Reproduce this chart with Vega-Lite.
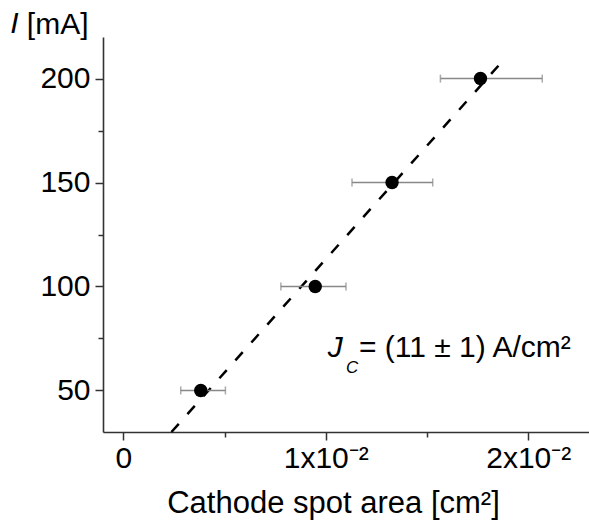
{
  "$schema": "https://vega.github.io/schema/vega-lite/v6.json",
  "width": 486,
  "height": 395,
  "autosize": {"type": "none"},
  "padding": {"left": 103, "top": 37, "right": 0, "bottom": 88},
  "background": "white",
  "config": {
    "view": {"stroke": null},
    "font": "Liberation Sans",
    "axis": {"grid": false, "domainColor": "#333", "domainWidth": 1.6, "tickColor": "#333", "tickWidth": 1.5, "labelColor": "#000", "titleColor": "#000", "labelFont": "Liberation Sans", "titleFont": "Liberation Sans", "labelFontSize": 30, "titleFontSize": 30, "titleFontWeight": "normal"}
  },
  "data": {
    "values": [
      {"area": 0.003828, "areaMin": 0.002839, "areaMax": 0.005045, "current": 50},
      {"area": 0.009481, "areaMin": 0.007784, "areaMax": 0.010999, "current": 100},
      {"area": 0.013274, "areaMin": 0.011296, "areaMax": 0.015282, "current": 150},
      {"area": 0.017641, "areaMin": 0.015663, "areaMax": 0.020692, "current": 200}
    ]
  },
  "layer": [
    {
      "data": {"values": [{"area": 0.00238, "current": 30}, {"area": 0.01884, "current": 209.6}]},
      "mark": {"type": "line", "strokeDash": [11, 13], "strokeWidth": 2.5, "color": "#000"},
      "encoding": {
        "x": {
          "field": "area", "type": "quantitative", "title": "Cathode spot area [cm²]",
          "scale": {"domain": [-0.001, 0.023], "nice": false, "zero": false},
          "axis": {
            "values": [0, 0.005, 0.01, 0.015, 0.02],
            "labelExpr": "datum.value == 0 ? '0' : abs(datum.value - 0.01) < 1e-9 ? '1x10⁻²' : abs(datum.value - 0.02) < 1e-9 ? '2x10⁻²' : ''",
            "tickSize": {"condition": {"test": "abs(datum.value*100 - round(datum.value*100)) < 1e-6", "value": 8}, "value": 5},
            "labelBaseline": "top", "labelPadding": 3, "labelFlush": false, "labelOverlap": false,
            "titleX": 230, "titleY": 80, "titleBaseline": "alphabetic", "titleAlign": "center", "titleFontSize": 31
          }
        },
        "y": {
          "field": "current", "type": "quantitative", "title": "[mA]",
          "scale": {"domain": [30, 220], "nice": false, "zero": false},
          "axis": {
            "values": [50, 75, 100, 125, 150, 175, 200],
            "labelExpr": "datum.value % 50 == 0 ? datum.label : ''",
            "tickSize": {"condition": {"test": "datum.value % 50 == 0", "value": 8}, "value": 5},
            "labelPadding": 5, "labelOverlap": false,
            "titleAngle": 0, "titleAlign": "right", "titleBaseline": "alphabetic", "titleX": -15, "titleY": -4
          }
        }
      }
    },
    {
      "mark": {"type": "errorbar", "color": "#888", "thickness": 1.5, "ticks": {"size": 8, "thickness": 1.5, "color": "#888"}},
      "encoding": {
        "x": {"field": "areaMin", "type": "quantitative", "title": "Cathode spot area [cm²]"},
        "x2": {"field": "areaMax"},
        "y": {"field": "current", "type": "quantitative", "title": "[mA]"}
      }
    },
    {
      "mark": {"type": "point", "shape": "circle", "filled": true, "size": 180, "color": "#000", "opacity": 1},
      "encoding": {
        "x": {"field": "area", "type": "quantitative", "title": "Cathode spot area [cm²]"},
        "y": {"field": "current", "type": "quantitative", "title": "[mA]"}
      }
    },
    {
      "data": {"values": [{"label": "I"}]},
      "mark": {"type": "text", "font": "Liberation Sans", "fontStyle": "italic", "fontSize": 30, "align": "left", "baseline": "alphabetic", "color": "#000"},
      "encoding": {
        "text": {"field": "label"},
        "x": {"datum": -0.00558, "type": "quantitative", "title": "Cathode spot area [cm²]"},
        "y": {"datum": 221.8, "type": "quantitative", "title": "[mA]"}
      }
    },
    {
      "data": {"values": [{"label": "J"}]},
      "mark": {"type": "text", "font": "Liberation Sans", "fontStyle": "italic", "fontSize": 30, "align": "left", "baseline": "alphabetic", "color": "#000"},
      "encoding": {
        "text": {"field": "label"},
        "x": {"datum": 0.0101, "type": "quantitative", "title": "Cathode spot area [cm²]"},
        "y": {"datum": 66.2, "type": "quantitative", "title": "[mA]"}
      }
    },
    {
      "data": {"values": [{"label": "C"}]},
      "mark": {"type": "text", "font": "Liberation Sans", "fontStyle": "italic", "fontSize": 17, "align": "left", "baseline": "alphabetic", "color": "#000"},
      "encoding": {
        "text": {"field": "label"},
        "x": {"datum": 0.011, "type": "quantitative", "title": "Cathode spot area [cm²]"},
        "y": {"datum": 58.4, "type": "quantitative", "title": "[mA]"}
      }
    },
    {
      "data": {"values": [{"label": "= (11 ± 1) A/cm²"}]},
      "mark": {"type": "text", "font": "Liberation Sans", "fontSize": 30, "align": "left", "baseline": "alphabetic", "color": "#000"},
      "encoding": {
        "text": {"field": "label"},
        "x": {"datum": 0.01164, "type": "quantitative", "title": "Cathode spot area [cm²]"},
        "y": {"datum": 66.2, "type": "quantitative", "title": "[mA]"}
      }
    }
  ]
}
